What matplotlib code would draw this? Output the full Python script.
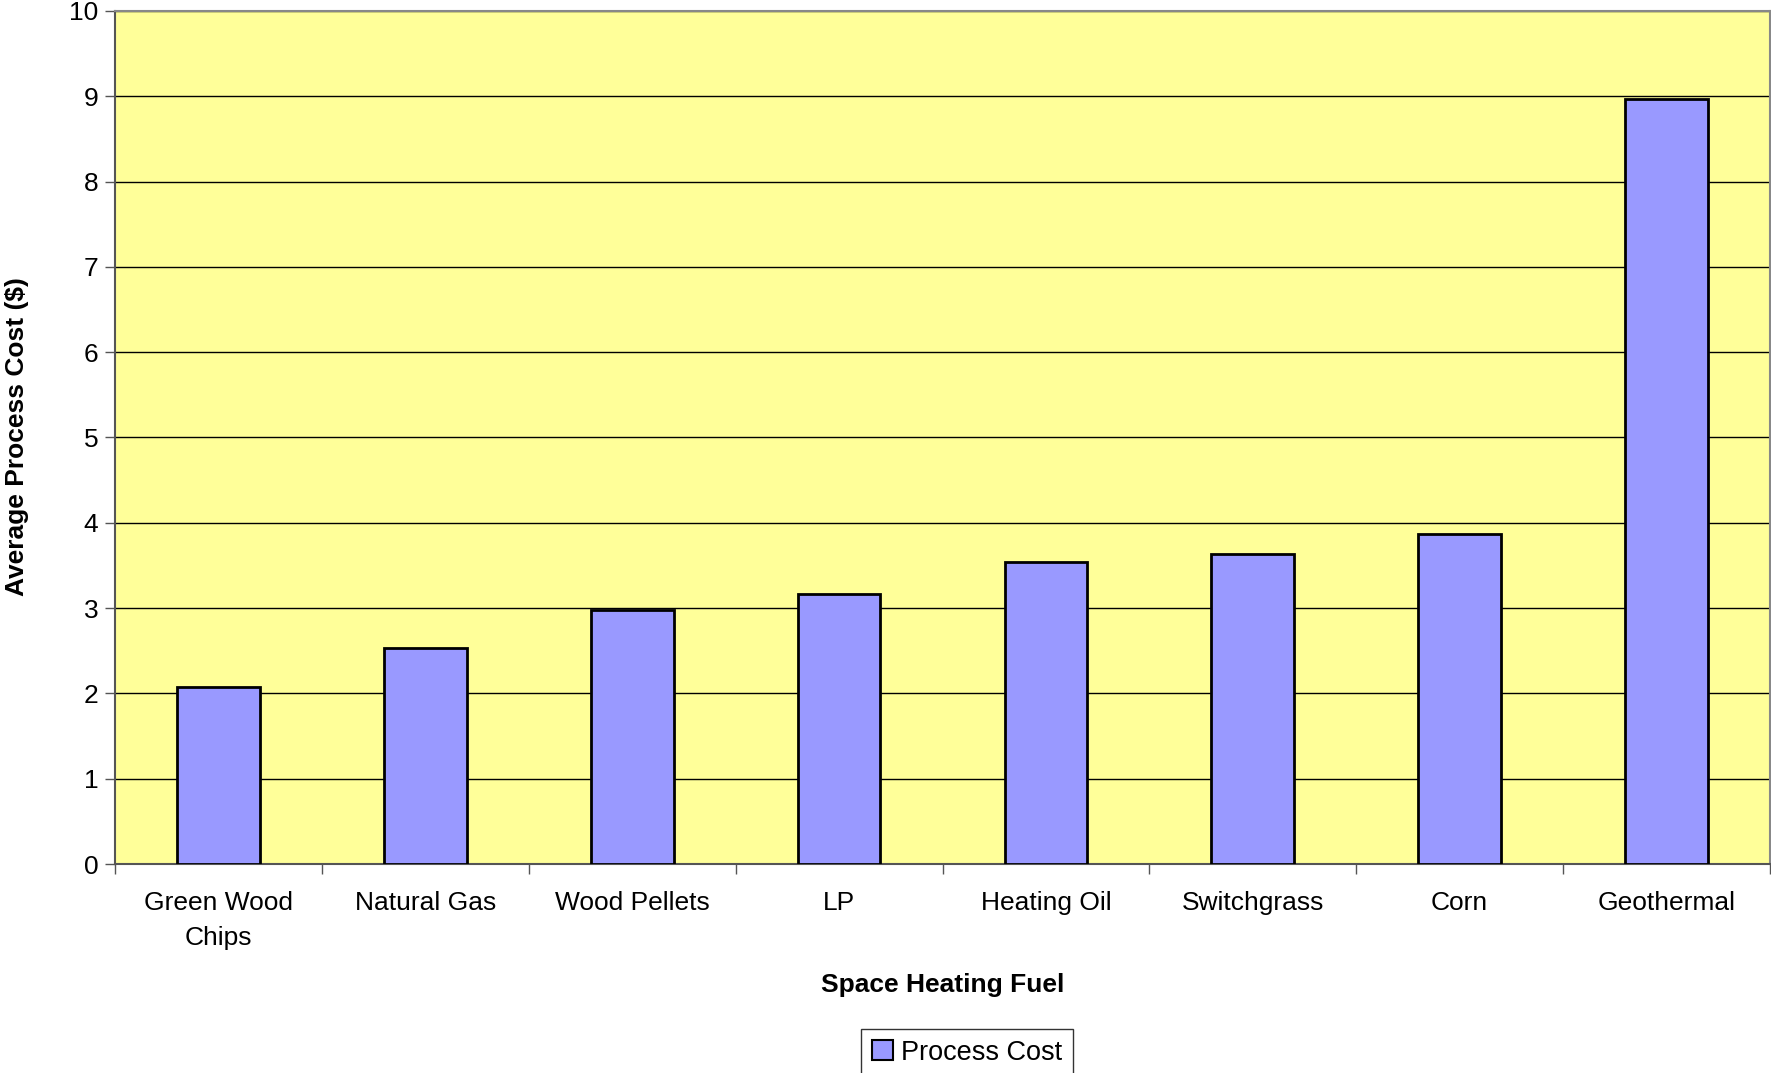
import matplotlib
matplotlib.use("Agg")
import matplotlib.pyplot as plt
import numpy as np
from matplotlib.ticker import FixedLocator

categories = ["Green Wood\nChips", "Natural Gas", "Wood Pellets", "LP",
              "Heating Oil", "Switchgrass", "Corn", "Geothermal"]
values = [2.08, 2.53, 2.98, 3.17, 3.54, 3.64, 3.87, 8.97]
yticks = list(range(0, 11))

plt.rcParams['font.family'] = ['Liberation Sans', 'DejaVu Sans']

fig = plt.figure(figsize=(17.71, 10.73), dpi=100)
ax = fig.add_axes([115/1771, 1-864/1073, (1770-115)/1771, (864-11)/1073])
ax.set_facecolor('#FFFF99')

x = np.arange(len(categories))
ax.bar(x, values, width=0.4, color='#9999FF', edgecolor='black', linewidth=2,
       label='Process Cost', zorder=3)

ax.set_xlim(-0.5, len(categories) - 0.5)
ax.set_ylim(0, 10)
ax.set_yticks(yticks)
ax.yaxis.grid(True, color='black', linewidth=1.0, zorder=1)
ax.set_axisbelow(True)

ax.set_xticks(x)
ax.set_xticklabels(categories, fontsize=19, linespacing=1.55)
ax.tick_params(axis='x', which='major', length=0, pad=19.5)
ax.xaxis.set_minor_locator(FixedLocator(np.arange(-0.5, len(categories), 1.0)))
ax.tick_params(axis='x', which='minor', length=7, width=1, color='#555555')
ax.tick_params(axis='y', length=7, width=1, color='#555555', labelsize=19, pad=5)

for s in ['left', 'bottom']:
    ax.spines[s].set_color('#555555')
    ax.spines[s].set_linewidth(1.5)
for s in ['top', 'right']:
    ax.spines[s].set_color('#888888')
    ax.spines[s].set_linewidth(1.5)

ax.set_xlabel('Space Heating Fuel', fontsize=19, fontweight='bold', labelpad=17)
fig.text(17/1771, 1-437/1073, 'Average Process Cost ($)', rotation=90,
         fontsize=19, fontweight='bold', ha='center', va='center')

leg = fig.legend(loc='upper center', bbox_to_anchor=(967/1771, 1-1029/1073),
                 fontsize=19.5, frameon=True, fancybox=False, handlelength=0.75,
                 handleheight=0.75, handletextpad=0.3, borderpad=0.4, borderaxespad=0)
leg.get_frame().set_edgecolor('black')
leg.get_frame().set_linewidth(1.0)
for h in leg.legend_handles:
    h.set_linewidth(1.5)

fig.savefig('out.png', dpi=100)
